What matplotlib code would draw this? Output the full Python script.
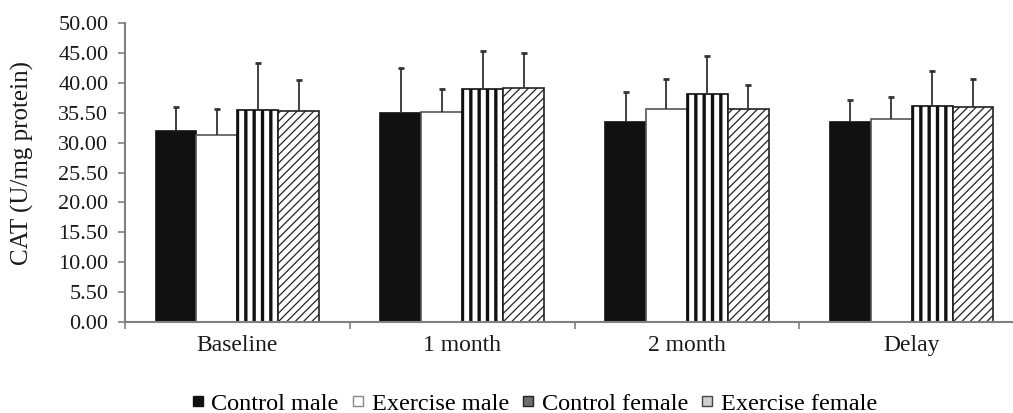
import numpy as np
import matplotlib
matplotlib.use("Agg")
import matplotlib.pyplot as plt
from matplotlib.lines import Line2D

plt.rcParams['font.family'] = ['Liberation Serif', 'DejaVu Serif']

# data
periods = ['Baseline', '1 month', '2 month', 'Delay']
groups = ['Control male', 'Exercise male', 'Control female', 'Exercise female']
control_male = [31.9, 34.9, 33.4, 33.5]
control_male_err = [4.0, 7.6, 5.1, 3.6]
exercise_male = [31.2, 35.2, 35.6, 33.9]
exercise_male_err = [4.5, 3.7, 5.1, 3.7]
control_female = [35.45, 39.0, 38.1, 36.1]
control_female_err = [7.8, 6.4, 6.4, 5.9]
exercise_female = [35.3, 39.1, 35.7, 36.0]
exercise_female_err = [5.2, 5.9, 4.0, 4.6]
yticks = [0, 5, 10, 15, 20, 25, 30, 35, 40, 45, 50]
ytick_labels = ['0.00', '5.50', '10.00', '15.50', '20.00', '25.50',
                '30.00', '35.50', '40.00', '45.00', '50.00']

values = [control_male, exercise_male, control_female, exercise_female]
errors = [control_male_err, exercise_male_err, control_female_err, exercise_female_err]
faces = ['#111111', 'white', 'white', 'white']
edges = ['#111111', '#555555', '#111111', '#222222']
hatches = [None, None, '||', '////']
hatch_lw = [1.0, 1.0, 2.4, 0.9]
legend_faces = ['#111111', 'white', '#6e6e6e', '#cfcfcf']
legend_edges = ['#111111', '#888888', '#222222', '#444444']

fig = plt.figure(figsize=(10.13, 4.13), dpi=100)
ax = fig.add_axes([0.1234, 0.2203, 0.8875, 0.7240])

x = np.arange(len(periods))
w = 0.182
for i in range(4):
    with plt.rc_context({'hatch.linewidth': hatch_lw[i], 'hatch.color': '#111111'}):
        ax.bar(x + (i - 1.5) * w, values[i], w, color=faces[i], edgecolor=edges[i],
               hatch=hatches[i], linewidth=1.2, zorder=2)
    eb = ax.errorbar(x + (i - 1.5) * w, values[i],
                     yerr=[np.zeros(4), errors[i]], fmt='none',
                     ecolor='#333333', elinewidth=1.3, capsize=2.2, capthick=2, zorder=3)
    # only the upper cap is drawn in the original
    for cap in eb[1]:
        if np.allclose(cap.get_ydata(), values[i]):
            cap.set_visible(False)

ax.set_xlim(-0.5, 3.5)
ax.set_ylim(0, 50)
ax.set_yticks(yticks)
ax.set_yticklabels(ytick_labels)
ax.set_xticks(x)
ax.set_xticklabels(periods)
ax.set_xticks(np.arange(-0.5, 3.6, 1.0), minor=True)
ax.tick_params(axis='x', which='major', length=0, pad=9, labelsize=17, labelcolor='#1a1a1a')
ax.tick_params(axis='x', which='minor', length=5, width=1.2, color='#808080', direction='out')
ax.tick_params(axis='y', length=5, width=1.2, color='#808080', pad=7,
               labelsize=16, labelcolor='#1a1a1a')

for s in ['top', 'right']:
    ax.spines[s].set_visible(False)
for s in ['left', 'bottom']:
    ax.spines[s].set_color('#808080')
    ax.spines[s].set_linewidth(1.5)

ax.set_ylabel('CAT (U/mg protein)', fontsize=18, color='#1a1a1a')
ax.yaxis.set_label_coords(-0.101, 0.533)

handles = [Line2D([], [], linestyle='none', marker='s', markersize=7,
                  markerfacecolor=legend_faces[i], markeredgecolor=legend_edges[i],
                  markeredgewidth=1.0) for i in range(4)]
fig.legend(handles, groups, loc='center', bbox_to_anchor=(0.527, 0.022), ncol=4,
           frameon=False, fontsize=17.5, handlelength=0.6, handletextpad=0.25,
           columnspacing=0.5, borderpad=0)

fig.savefig('out.png', dpi=100)
